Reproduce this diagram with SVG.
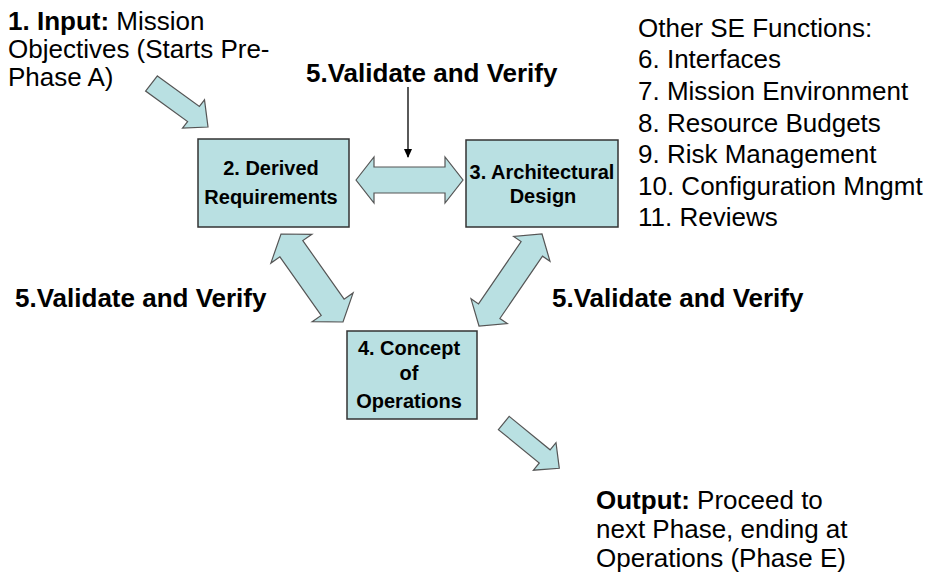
<svg xmlns="http://www.w3.org/2000/svg" width="942" height="579" viewBox="0 0 942 579">
<defs>
<style>
.box{fill:#b9e0e2;stroke:#333;stroke-width:1.5}
.arr{fill:#b9e0e2;stroke:#555;stroke-width:1.2;stroke-linejoin:miter}
.t{font-family:"Liberation Sans",Arial,sans-serif;font-size:26px;fill:#000}
.b{font-weight:bold}
.bt{font-family:"Liberation Sans",Arial,sans-serif;font-size:20px;font-weight:bold;fill:#000;text-anchor:middle}
</style>
<marker id="ah" markerWidth="10" markerHeight="10" refX="8" refY="5" orient="auto" markerUnits="userSpaceOnUse">
<path d="M0,1 L9,5 L0,9 z" fill="#000"/>
</marker>
</defs>
<rect width="942" height="579" fill="#fff"/>

<g id="connectors">
<polygon class="arr" points="157.4,75.9 199.4,106.4 204.5,99.8 208,127 182.5,128.2 187.6,121.6 145.6,91.1"/>
<polygon class="arr" points="356,180 374,157 374,167 445,167 445,157 463,180 445,203 445,193 374,193 374,203"/>
<polygon class="arr" points="281,234 311.9,234.3 302.8,240.6 344.1,299.2 353.1,292.9 343,322 312.2,321.7 321.2,315.4 279.9,256.8 270.9,263.1"/>
<polygon class="arr" points="542,234 550,261.3 542.5,256.2 499.9,318.5 507.3,323.6 479,326 471,298.8 478.5,303.9 521.1,241.6 513.7,236.5"/>
<polygon class="arr" points="509.2,416.4 550.1,449.8 556,442.6 559.3,468.3 533.4,470.2 539.3,463 498.4,429.6"/>
<line x1="408" y1="87" x2="408" y2="157" stroke="#000" stroke-width="1.3" marker-end="url(#ah)"/>
</g>

<g id="input">
<text class="t" x="8" y="30"><tspan class="b">1. Input:</tspan> Mission</text>
<text class="t" x="8" y="58">Objectives (Starts Pre-</text>
<text class="t" x="8" y="86">Phase A)</text>
</g>

<g id="vv-top"><text class="t b" x="306" y="82">5.Validate and Verify</text></g>
<g id="vv-left"><text class="t b" x="15" y="307">5.Validate and Verify</text></g>
<g id="vv-right"><text class="t b" x="552" y="307">5.Validate and Verify</text></g>

<g id="other">
<text class="t" x="638" y="37">Other SE Functions:</text>
<text class="t" x="638" y="68">6. Interfaces</text>
<text class="t" x="638" y="100">7. Mission Environment</text>
<text class="t" x="638" y="132">8. Resource Budgets</text>
<text class="t" x="638" y="163">9. Risk Management</text>
<text class="t" x="638" y="195">10. Configuration Mngmt</text>
<text class="t" x="638" y="226">11. Reviews</text>
</g>

<g id="node2">
<rect class="box" x="198" y="139" width="151" height="88"/>
<text class="bt" x="271" y="175">2. Derived</text>
<text class="bt" x="271" y="204">Requirements</text>
</g>

<g id="node3">
<rect class="box" x="466" y="140" width="152" height="87"/>
<text class="bt" x="542" y="179">3. Architectural</text>
<text class="bt" x="543" y="203">Design</text>
</g>

<g id="node4">
<rect class="box" x="347" y="331" width="130" height="88"/>
<text class="bt" x="409" y="355">4. Concept</text>
<text class="bt" x="409" y="380">of</text>
<text class="bt" x="409" y="408">Operations</text>
</g>

<g id="output">
<text class="t" x="596" y="509"><tspan class="b">Output:</tspan> Proceed to</text>
<text class="t" x="596" y="538">next Phase, ending at</text>
<text class="t" x="596" y="567">Operations (Phase E)</text>
</g>
</svg>
